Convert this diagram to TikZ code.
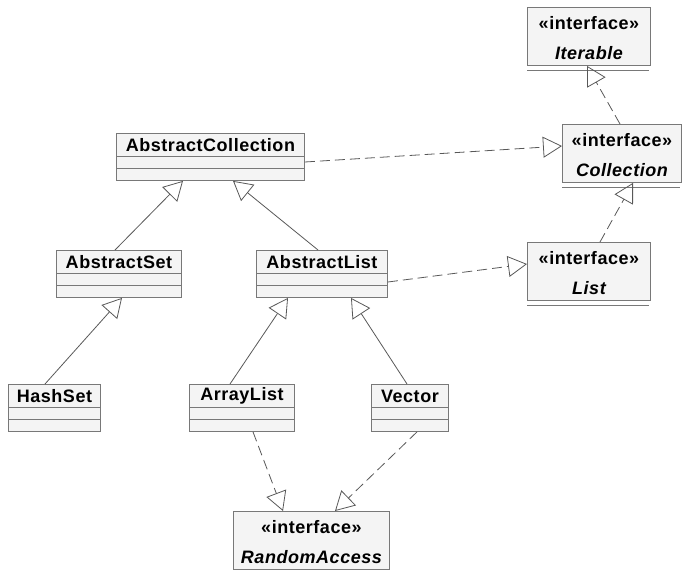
\documentclass[tikz,border=0pt]{standalone}
\usepackage{fontspec}
\usepackage{xcolor}
\newfontfamily\umlfont[LetterSpace=3]{Liberation Sans}
\usetikzlibrary{arrows.meta}

\definecolor{boxfill}{HTML}{F4F4F4}
\definecolor{boxline}{HTML}{787878}
\definecolor{linkline}{HTML}{585858}

\begin{document}
\begin{tikzpicture}[x=1pt,y=-1pt,
        cls/.style={draw=boxline,fill=boxfill,anchor=north west,inner sep=0pt,line width=0.9pt},
        ttl/.style={font=\umlfont\bfseries\fontsize{18}{21}\selectfont,inner sep=0pt},
        ittl/.style={font=\umlfont\bfseries\itshape\fontsize{18}{21}\selectfont,inner sep=0pt},
        sep/.style={draw=boxline,line width=0.9pt},
        ext/.style={draw=linkline,line width=0.8pt,-{Triangle[open,length=19pt,width=21pt]}},
        impl/.style={ext,dash pattern=on 10pt off 5pt}]

        % Background
        \useasboundingbox (0,0) rectangle (682,572);

        % Classes
        \foreach \n/\x/\y/\w/\t in {ac/116/133/188/AbstractCollection,as/56/250/125/AbstractSet,al/256/250/131/AbstractList,hs/8/384/92/HashSet,arl/189/384/105/ArrayList,vec/371/384/77/Vector} {
            \node[cls,minimum width=\w pt,minimum height=47pt] (\n) at (\x,\y) {};
            \node[ttl] (\n-t) at ([yshift=-12pt]\n.north) {\t};
            \draw[sep] ([yshift=-23pt]\n.north west) -- ([yshift=-23pt]\n.north east);
            \draw[sep] ([yshift=-35pt]\n.north west) -- ([yshift=-35pt]\n.north east);
        }

        % Interfaces
        \foreach \n/\x/\y/\w/\t in {itb/527/7/123/Iterable,col/562/124/119/Collection,lst/527/242/123/List,ra/233/511/156/RandomAccess} {
            \node[cls,minimum width=\w pt,minimum height=58pt] (\n) at (\x,\y) {};
            \node[ttl] (\n-s) at ([yshift=-16pt]\n.north) {«interface»};
            \node[ittl] (\n-t) at ([yshift=-46pt]\n.north) {\t};
        }
        \foreach \n in {itb,col,lst}
            \draw[sep] ([yshift=-5pt]\n.south west) -- ([xshift=-2pt,yshift=-5pt]\n.south east);

        % Links
        \draw[impl] ([xshift=58pt]col.north west) -- ([xshift=60pt]itb.south west);
        \draw[impl] ([yshift=-29pt]ac.north east) -- ([yshift=-22pt]col.north west);
        \draw[impl] ([yshift=-32pt]al.north east) -- ([yshift=-22pt]lst.north west);
        \draw[impl] ([xshift=73pt]lst.north west) -- ([xshift=71pt]col.south west);
        \draw[ext] ([xshift=59pt]as.north west) -- ([xshift=67pt]ac.south west);
        \draw[ext] ([xshift=62pt]al.north west) -- ([xshift=117pt]ac.south west);
        \draw[ext] ([xshift=37pt]hs.north west) -- ([xshift=66pt]as.south west);
        \draw[ext] ([xshift=41pt]arl.north west) -- ([xshift=32pt]al.south west);
        \draw[ext] ([xshift=36pt]vec.north west) -- ([xshift=95pt]al.south west);
        \draw[impl] ([xshift=64pt]arl.south west) -- ([xshift=50pt]ra.north west);
        \draw[impl] ([xshift=46pt]vec.south west) -- ([xshift=102pt]ra.north west);

    \end{tikzpicture}
\end{document}
